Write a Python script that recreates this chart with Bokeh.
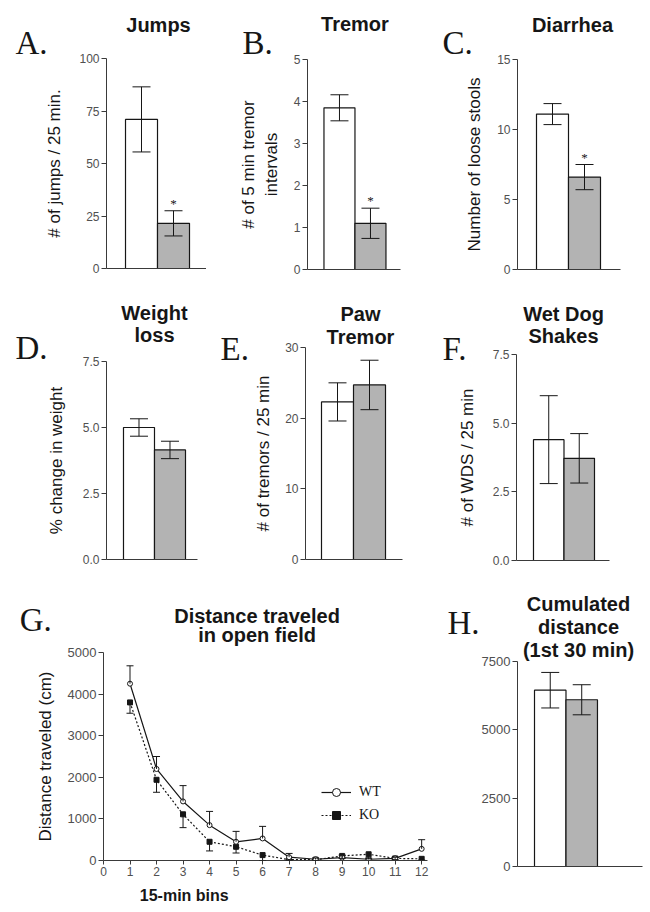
from bokeh.plotting import figure
from bokeh.layouts import column, row
from bokeh.models import (Range1d, FixedTicker, PrintfTickFormatter, Whisker, TeeHead,
                          ColumnDataSource, Label, Legend, LegendItem)
from bokeh.embed import file_html
from bokeh.resources import INLINE

# ---------------- data ----------------
groups = ["WT", "KO"]
jumps = [71.0, 21.5]
jumps_err = [15.5, 6.0]
tremor = [3.85, 1.1]
tremor_err = [0.31, 0.36]
diarrhea = [11.1, 6.6]
diarrhea_err = [0.75, 0.9]
weight = [5.0, 4.15]
weight_err = [0.33, 0.33]
paw = [22.3, 24.7]
paw_err = [2.7, 3.5]
wds = [4.4, 3.72]
wds_err = [1.6, 0.9]
cumul = [6450, 6100]
cumul_err = [650, 550]

bins = [1, 2, 3, 4, 5, 6, 7, 8, 9, 10, 11, 12]
wt_dist = [4250, 2200, 1420, 850, 450, 530, 80, 30, 70, 30, 50, 280]
wt_dist_err = [430, 300, 380, 330, 250, 290, 90, 30, 60, 30, 30, 220]
ko_dist = [3800, 1940, 1110, 450, 330, 130, 20, 20, 110, 150, 50, 40]
ko_dist_err = [260, 300, 320, 220, 150, 130, 20, 20, 60, 110, 30, 30]

SANS = "Liberation Sans"
SERIF = "Liberation Serif"
INK = "#161616"
AXIS = "#3a3a3a"
TICK_TXT = "#505050"
WHITE = "#ffffff"
GRAY = "#b3b3b3"
TITLE_PX = 20
YLABEL_PX = 17
LETTER_PX = 33


def style(p, tick_px=12):
    p.outline_line_color = None
    p.background_fill_color = "white"
    p.border_fill_color = "white"
    p.xgrid.visible = False
    p.ygrid.visible = False
    for ax in p.axis:
        ax.axis_line_color = AXIS
        ax.axis_line_width = 1
        ax.major_tick_line_color = AXIS
        ax.minor_tick_line_color = None
        ax.major_tick_in = 0
        ax.major_tick_out = 5
        ax.major_label_text_font = SANS
        ax.major_label_text_font_size = f"{tick_px}px"
        ax.major_label_text_color = TICK_TXT
        ax.major_label_standoff = 2
        ax.axis_label_text_font = SANS
        ax.axis_label_text_font_style = "normal"
        ax.axis_label_text_font_size = f"{YLABEL_PX}px"
        ax.axis_label_text_color = INK


def make_fig(origin, size, borders, xr, yr):
    ox, oy = origin
    w, h = size
    l, r, t, b = borders
    p = figure(width=w, height=h, x_range=Range1d(*xr), y_range=Range1d(*yr),
               output_backend="svg", toolbar_location=None,
               min_border_left=l, min_border_right=r, min_border_top=t,
               min_border_bottom=b)
    info = dict(fl=ox + l, ft=oy + t, fw=w - l - r, fh=h - t - b, xr=xr, yr=yr)
    return p, info


def add_text(p, info, px, py, text, size, side, font=SANS, fstyle="normal",
             align="center", baseline="middle"):
    # convert a page-pixel anchor into the figure's own data space; the label is
    # put in a side panel so that it is not clipped to the plot frame
    x0, x1 = info["xr"]
    y0, y1 = info["yr"]
    xd = x0 + (px - info["fl"]) / info["fw"] * (x1 - x0)
    yd = y1 - (py - info["ft"]) / info["fh"] * (y1 - y0)
    p.add_layout(Label(x=xd, y=yd, x_units="data", y_units="data",
                       text=text, text_font=font, text_font_size=f"{size}px",
                       text_font_style=fstyle, text_align=align,
                       text_baseline=baseline, text_color=INK), side)


def title(p, info, px, lines):
    for text, py in lines:
        add_text(p, info, px, py, text, TITLE_PX, "above", fstyle="bold")


def letter(p, info, px, py, text):
    add_text(p, info, px, py, text, LETTER_PX, "left", font=SERIF, align="left")


def bar_panel(origin, size, borders, xr, ymax, yticks, vals, errs, ylabel,
              standoff, fmt=None, star=False, cap=18, tick_px=12):
    p, info = make_fig(origin, size, borders, xr, (0, ymax))
    style(p, tick_px)
    p.xaxis.ticker = FixedTicker(ticks=[])
    p.xaxis.major_tick_out = 0
    p.yaxis.ticker = FixedTicker(ticks=yticks)
    if fmt:
        p.yaxis.formatter = PrintfTickFormatter(format=fmt)
    if ylabel:
        p.yaxis.axis_label = ylabel
        p.yaxis.axis_label_standoff = standoff
    src = ColumnDataSource(dict(
        x=[1, 2], top=vals,
        upper=[v + e for v, e in zip(vals, errs)],
        lower=[v - e for v, e in zip(vals, errs)],
        color=[WHITE, GRAY]))
    p.vbar(x="x", top="top", width=1, source=src, fill_color="color",
           line_color=INK, line_width=1.2)
    p.add_layout(Whisker(source=src, base="x", upper="upper", lower="lower",
                         line_color=INK, line_width=1, level="overlay",
                         upper_head=TeeHead(size=cap, line_color=INK, line_width=1),
                         lower_head=TeeHead(size=cap, line_color=INK, line_width=1)))
    if star:
        p.text(x=[2], y=[vals[1] + errs[1] + 0.035 * ymax], text=["*"],
               text_align="center", text_baseline="middle",
               text_font=SANS, text_font_size="13px", text_color=INK)
    return p, info


# ---------------- row 1 (page y 0..285) ----------------
pA, iA = bar_panel((0, 0), (206, 285), (106, 0, 58, 17), (-0.094, 3.031), 100,
                   [0, 25, 50, 75, 100], jumps, jumps_err,
                   "# of jumps / 25 min.", 12, star=True)
title(pA, iA, 158, [("Jumps", 24)])
letter(pA, iA, 15, 42, "A.")

pB, iB = bar_panel((206, 0), (214, 285), (98, 20, 59, 16), (-0.03125, 2.96875), 5,
                   [0, 1, 2, 3, 4, 5], tremor, tremor_err,
                   "# of 5 min tremor\nintervals", 10, star=True)
title(pB, iB, 353, [("Tremor", 23)])
letter(pB, iB, 237, 42, "B.")

pC, iC = bar_panel((420, 0), (230, 285), (97, 30, 59, 16), (-0.09375, 3.125), 15,
                   [0, 5, 10, 15], diarrhea, diarrhea_err,
                   "Number of loose stools", 10, star=True)
title(pC, iC, 572, [("Diarrhea", 24)])
letter(pC, iC, 442, 42, "C.")

# ---------------- row 2 (page y 285..570) ----------------
pD, iD = bar_panel((0, 285), (210, 285), (106, 13, 76, 11), (-0.048, 2.887), 7.5,
                   [0, 2.5, 5, 7.5], weight, weight_err,
                   "% change in weight", 14, fmt="%.1f")
title(pD, iD, 154, [("Weight", 312), ("loss", 334)])
letter(pD, iD, 15, 347, "D.")

pE, iE = bar_panel((210, 285), (210, 285), (95, 18, 62, 11), (0.0, 3.031), 30,
                   [0, 10, 20, 30], paw, paw_err,
                   "# of tremors / 25 min", 9)
title(pE, iE, 360, [("Paw", 313), ("Tremor", 336)])
letter(pE, iE, 220, 348, "E.")

pF, iF = bar_panel((420, 285), (230, 285), (96, 41, 69, 10), (-0.057, 2.992), 7.5,
                   [0, 2.5, 5, 7.5], wds, wds_err,
                   "# of WDS / 25 min", 13, fmt="%.1f")
title(pF, iF, 563, [("Wet Dog", 313), ("Shakes", 335)])
letter(pF, iF, 442, 348, "F.")

# ---------------- row 3 (page y 570..912): G ----------------
pG, iG = make_fig((0, 570), (440, 342), (102, 13, 82, 52), (0, 12.22), (0, 5000))
style(pG)
pG.yaxis.major_label_text_font_size = "13px"
pG.xaxis.ticker = FixedTicker(ticks=[0] + bins)
pG.xaxis.major_tick_out = 4
pG.xaxis.major_label_standoff = 2
pG.yaxis.ticker = FixedTicker(ticks=[0, 1000, 2000, 3000, 4000, 5000])
pG.yaxis.axis_label = "Distance traveled (cm)"
pG.yaxis.axis_label_standoff = 10

wt_src = ColumnDataSource(dict(x=bins, y=wt_dist,
                               up=[v + e for v, e in zip(wt_dist, wt_dist_err)]))
ko_src = ColumnDataSource(dict(x=bins, y=ko_dist,
                               lo=[max(v - e, 0) for v, e in zip(ko_dist, ko_dist_err)]))
pG.add_layout(Whisker(source=wt_src, base="x", upper="up", lower="y", level="overlay",
                      line_color=INK, line_width=1,
                      upper_head=TeeHead(size=7, line_color=INK, line_width=1),
                      lower_head=None))
pG.add_layout(Whisker(source=ko_src, base="x", upper="y", lower="lo", level="overlay",
                      line_color=INK, line_width=1, upper_head=None,
                      lower_head=TeeHead(size=7, line_color=INK, line_width=1)))
wt_line = pG.line("x", "y", source=wt_src, line_color=INK, line_width=1.2)
ko_line = pG.line("x", "y", source=ko_src, line_color=INK, line_width=1.2, line_dash="2 2")
ko_pts = pG.scatter("x", "y", source=ko_src, marker="square", size=5,
                    fill_color=INK, line_color=INK)
wt_pts = pG.scatter("x", "y", source=wt_src, marker="circle", size=5,
                    fill_color="white", line_color=INK, line_width=1)
legend = Legend(items=[LegendItem(label="WT", renderers=[wt_line, wt_pts]),
                       LegendItem(label="KO", renderers=[ko_line, ko_pts])],
                location=(218, 35), padding=0, margin=0, spacing=3,
                glyph_width=30, glyph_height=20, label_height=20, label_standoff=8,
                label_text_font=SERIF, label_text_font_size="14px",
                label_text_color=INK, background_fill_alpha=0,
                border_line_color=None)
pG.add_layout(legend)
title(pG, iG, 256, [("Distance traveled", 615), ("in open field", 634)])
add_text(pG, iG, 183, 895, "15-min bins", 16, "below", fstyle="bold")
letter(pG, iG, 18, 619, "G.")

# ---------------- row 3: H ----------------
pH, iH = bar_panel((440, 570), (210, 342), (77, 8, 91, 46), (-0.04, 3.93), 7500,
                   [0, 2500, 5000, 7500], cumul, cumul_err, None, 10, tick_px=13)
title(pH, iH, 578, [("Cumulated", 603), ("distance", 626), ("(1st 30 min)", 649)])
letter(pH, iH, 447, 622, "H.")


# each plot sits in its own column so that rows do not align the plot frames
def cell(p):
    return column(p, spacing=0)


layout = column(row(cell(pA), cell(pB), cell(pC), spacing=0),
                row(cell(pD), cell(pE), cell(pF), spacing=0),
                row(cell(pG), cell(pH), spacing=0), spacing=0)

with open("out.html", "w") as f:
    f.write(file_html(layout, INLINE))
